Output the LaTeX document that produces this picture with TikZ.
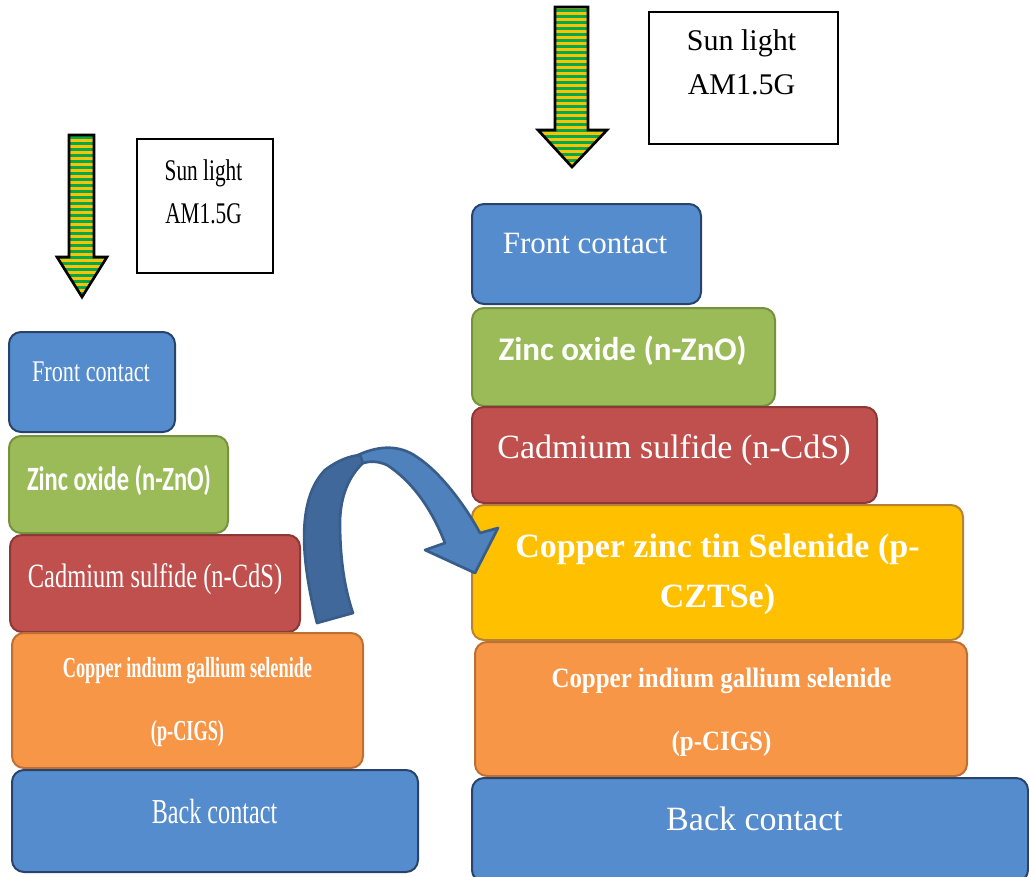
\documentclass[tikz,border=0pt]{standalone}
\usepackage{fontspec}
\usepackage{graphicx}
\setmainfont{Liberation Serif}
\newfontfamily\calib{Carlito}
\definecolor{bluef}{RGB}{85,140,205}
\definecolor{blueb}{RGB}{40,68,108}
\definecolor{greenf}{RGB}{155,187,89}
\definecolor{greenb}{RGB}{118,146,60}
\definecolor{redf}{RGB}{192,80,77}
\definecolor{redb}{RGB}{140,56,54}
\definecolor{orangef}{RGB}{247,150,70}
\definecolor{orangeb}{RGB}{190,112,52}
\definecolor{yellowf}{RGB}{255,192,0}
\definecolor{yellowb}{RGB}{185,130,50}
\definecolor{sungreen}{RGB}{0,168,80}
\definecolor{sunyellow}{RGB}{255,192,0}
\definecolor{arrlight}{RGB}{79,129,189}
\definecolor{arrdark}{RGB}{64,104,154}
\definecolor{arredge}{RGB}{56,93,138}
\newcommand\lbl[3]{\scalebox{#1}[1]{\fontsize{#2}{#2}\selectfont #3}}
\tikzset{
  lay/.style n args={4}{rounded corners=9pt, fill=#1, draw=#2, line width=1.5pt,
    inner sep=0pt, minimum width=#3*0.75pt, minimum height=#4*0.75pt},
  txt/.style={anchor=base, inner sep=0pt, text=white},
  suntxt/.style={anchor=base, inner sep=0pt, text=black},
  sunbox/.style={draw=black, line width=1.1pt, fill=white},
  sunout/.style={draw=black, line width=2pt, line join=miter},
  curvearrow/.style={draw=arredge, line width=2pt, line join=round}
}
\begin{document}
\begin{tikzpicture}[x=0.75pt,y=-0.75pt]
\useasboundingbox (0,0) rectangle (1029,876);
\fill[white] (0,0) rectangle (1029,876);

% ---------- left sun arrow ----------
\begin{scope}
\clip (69,135) -- (94,135) -- (94,257) -- (107,257) -- (82,297) -- (57,257) -- (69,257) -- cycle;
\fill[sunyellow] (55,130) rectangle (110,300);
\foreach \y in {136,142,...,296} \fill[sungreen] (55,\y) rectangle (110,\y+3);
\end{scope}
\draw[sunout] (69,135) -- (94,135) -- (94,257) -- (107,257) -- (82,297) -- (57,257) -- (69,257) -- cycle;
\node[sunbox, minimum width=136*0.75pt, minimum height=134*0.75pt, inner sep=0pt] (lsunbox) at (205,206) {};
\node[suntxt] (lsun1) at (203.5,180) {\lbl{0.71}{22.5}{Sun light}};
\node[suntxt] (lsun2) at (203.5,223) {\lbl{0.71}{22.5}{AM1.5G}};

% ---------- right sun arrow ----------
\begin{scope}
\clip (555,7) -- (588,7) -- (588,130) -- (607,130) -- (572,167) -- (538,130) -- (555,130) -- cycle;
\fill[sunyellow] (530,0) rectangle (612,170);
\foreach \y in {9,15,...,165} \fill[sungreen] (530,\y) rectangle (612,\y+3);
\end{scope}
\draw[sunout] (555,7) -- (588,7) -- (588,130) -- (607,130) -- (572,167) -- (538,130) -- (555,130) -- cycle;
\node[sunbox, minimum width=189*0.75pt, minimum height=132*0.75pt, inner sep=0pt] (rsunbox) at (743.5,78) {};
\node[suntxt] (rsun1) at (741.5,50) {\lbl{1}{22.5}{Sun light}};
\node[suntxt] (rsun2) at (741.5,94) {\lbl{1}{22.5}{AM1.5G}};

% ---------- left stack ----------
\node[lay={bluef}{blueb}{166}{100}] (lfront) at (92,382) {};
\node[lay={greenf}{greenb}{219}{97}] (lzno) at (118.5,484.5) {};
\node[lay={redf}{redb}{290}{97}] (lcds) at (155,583.5) {};
\node[lay={orangef}{orangeb}{351}{135}] (lcigs) at (187.5,700.5) {};
\node[lay={bluef}{blueb}{406}{102}] (lback) at (215,821) {};

\node[txt] (tlfront) at (91,381) {\lbl{0.74}{22.5}{Front contact}};
\node[txt] (tlzno) at (119,490) {\lbl{0.72}{25.5}{\calib\bfseries Zinc oxide (n-ZnO)}};
\node[txt] (tlcds) at (155,587) {\lbl{0.72}{25.5}{Cadmium sulfide (n-CdS)}};
\node[txt] (tlcigs1) at (187.5,677) {\lbl{0.63}{21.75}{\bfseries Copper indium gallium selenide}};
\node[txt] (tlcigs2) at (187.5,740) {\lbl{0.63}{21.75}{\bfseries (p-CIGS)}};
\node[txt] (tlback) at (214.5,823) {\lbl{0.69}{26.25}{Back contact}};

% ---------- right stack ----------
\node[lay={bluef}{blueb}{229}{100}] (rfront) at (586.5,254) {};
\node[lay={greenf}{greenb}{303}{98}] (rzno) at (623.5,357) {};
\node[lay={redf}{redb}{405}{96}] (rcds) at (674.5,455) {};
\node[lay={yellowf}{yellowb}{491}{135}] (rczts) at (717.5,572.5) {};
\node[lay={orangef}{orangeb}{492}{134}] (rcigs) at (721,709) {};
\node[lay={bluef}{blueb}{556}{104}] (rback) at (750,830) {};

\node[txt] (trfront) at (585,253) {\lbl{1}{23.25}{Front contact}};
\node[txt] (trzno) at (622.5,360) {\lbl{1}{24.75}{\calib\bfseries Zinc oxide (n-ZnO)}};
\node[txt] (trcds) at (674,458) {\lbl{1}{25.5}{Cadmium sulfide (n-CdS)}};
\node[txt] (trczts1) at (717.5,557) {\lbl{1}{25.5}{\bfseries Copper zinc tin Selenide (p-}};
\node[txt] (trczts2) at (717.5,607) {\lbl{1}{25.5}{\bfseries CZTSe)}};
\node[txt] (trcigs1) at (721.5,687) {\lbl{0.89}{21}{\bfseries Copper indium gallium selenide}};
\node[txt] (trcigs2) at (721.5,750) {\lbl{0.89}{21}{\bfseries (p-CIGS)}};
\node[txt] (trback) at (754.5,830) {\lbl{1}{25.5}{Back contact}};

% ---------- curved transfer arrow ----------
\coordinate (ctail) at (335,618);
\coordinate (ctip) at (475,573);
\path[curvearrow, fill=arrlight]
  (358,455) .. controls (380,445) and (400,445) .. (417,457)
  .. controls (440,472) and (465,505) .. (480,533)
  -- (498,528) -- (ctip) -- (425,550) -- (445,543)
  .. controls (430,505) and (410,480) .. (387,465)
  .. controls (378,461) and (370,461) .. (363,463) -- cycle;
\path[curvearrow, fill=arrdark]
  (317,623) .. controls (301,560) and (296,500) .. (325,470)
  .. controls (338,460) and (350,456) .. (360,455)
  -- (363,463)
  .. controls (350,475) and (340,495) .. (340,523)
  .. controls (340,560) and (345,590) .. (353,613) -- cycle;
\end{tikzpicture}
\end{document}
